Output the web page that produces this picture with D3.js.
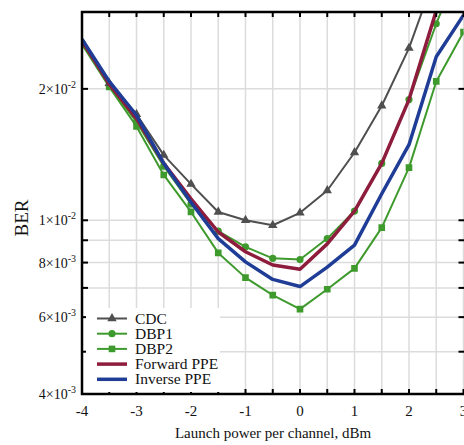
<!DOCTYPE html>
<html>
<head>
<meta charset="utf-8">
<script src="https://cdn.jsdelivr.net/npm/d3@7"></script>
<style>
  body { margin: 0; background: #fff; }
</style>
</head>
<body>
<div id="chart"></div>
<script>
// launch power per channel, dBm
var powers = [-4, -3.5, -3, -2.5, -2, -1.5, -1, -0.5, 0, 0.5, 1, 1.5, 2, 2.5, 3];

var berCDC  = [2.56e-2, 2.06e-2, 1.75e-2, 1.41e-2, 1.21e-2, 1.045e-2, 1.0e-2, 9.74e-3, 1.04e-2, 1.17e-2, 1.43e-2, 1.83e-2, 2.48e-2, 3.7e-2, 5.6e-2];
var berDBP1 = [2.55e-2, 2.03e-2, 1.68e-2, 1.33e-2, 1.09e-2, 9.44e-3, 8.69e-3, 8.18e-3, 8.13e-3, 9.08e-3, 1.05e-2, 1.35e-2, 1.89e-2, 2.82e-2, 4.0e-2];
var berDBP2 = [2.53e-2, 2.02e-2, 1.64e-2, 1.27e-2, 1.045e-2, 8.42e-3, 7.39e-3, 6.74e-3, 6.26e-3, 6.95e-3, 7.76e-3, 9.62e-3, 1.32e-2, 2.08e-2, 2.70e-2];
var berFwd  = [2.58e-2, 2.05e-2, 1.71e-2, 1.35e-2, 1.12e-2, 9.4e-3, 8.47e-3, 7.9e-3, 7.72e-3, 8.83e-3, 1.05e-2, 1.35e-2, 1.89e-2, 3.02e-2, 4.7e-2];
var berInv  = [2.6e-2, 2.08e-2, 1.74e-2, 1.35e-2, 1.10e-2, 9.08e-3, 8.03e-3, 7.32e-3, 7.05e-3, 7.81e-3, 8.77e-3, 1.15e-2, 1.49e-2, 2.37e-2, 2.95e-2];

var xTicks = [-4, -3, -2, -1, 0, 1, 2, 3];
var xMinor = d3.range(-4, 3.01, 0.5);
var yLabelTicks = [[4e-3, '4', '-3'], [6e-3, '6', '-3'], [8e-3, '8', '-3'], [1e-2, '1', '-2'], [2e-2, '2', '-2']];
var yGridTicks = [4e-3, 5e-3, 6e-3, 7e-3, 8e-3, 9e-3, 1e-2, 2e-2];

var series = [
  { name: 'DBP2', values: berDBP2, color: '#3f9a2e', width: 2, marker: 'square' },
  { name: 'DBP1', values: berDBP1, color: '#3f9a2e', width: 2, marker: 'circle' },
  { name: 'CDC', values: berCDC, color: '#4f4f4f', width: 2, marker: 'triangle' },
  { name: 'Forward PPE', values: berFwd, color: '#8e1c3c', width: 3.5, marker: null },
  { name: 'Inverse PPE', values: berInv, color: '#1f3d96', width: 3.5, marker: null }
];
var legendOrder = ['CDC', 'DBP1', 'DBP2', 'Forward PPE', 'Inverse PPE'];

var width = 464, height = 445;
var plotLeft = 82, plotRight = 463.5, plotTop = 12, plotBottom = 394;

var svg = d3.select('#chart').append('svg')
  .attr('width', width)
  .attr('height', height)
  .attr('font-family', '"Liberation Serif", "DejaVu Serif", "Times New Roman", serif')
  .style('font-family', '"Liberation Serif", "DejaVu Serif", "Times New Roman", serif');

var x = d3.scaleLinear().domain([-4, 3]).range([plotLeft, plotRight]);
var y = d3.scaleLog().domain([4e-3, 3e-2]).range([plotBottom, plotTop]);

svg.append('defs').append('clipPath').attr('id', 'plot-clip')
  .append('rect')
  .attr('x', plotLeft).attr('y', plotTop)
  .attr('width', plotRight - plotLeft).attr('height', plotBottom - plotTop);

// grid
var grid = svg.append('g');
grid.selectAll('.vg').data(xMinor).enter().append('line')
  .attr('x1', d => x(d)).attr('x2', d => x(d))
  .attr('y1', plotTop).attr('y2', plotBottom)
  .attr('stroke', '#dcdcdc').attr('stroke-width', 1.5);
grid.selectAll('.hg').data(yGridTicks).enter().append('line')
  .attr('x1', plotLeft).attr('x2', plotRight)
  .attr('y1', d => y(d)).attr('y2', d => y(d))
  .attr('stroke', '#dcdcdc').attr('stroke-width', 1.5);

// curves
var plot = svg.append('g').attr('clip-path', 'url(#plot-clip)');
var line = d3.line()
  .x((d, i) => x(powers[i]))
  .y(d => y(d));

var tri = d3.symbol().type(d3.symbolTriangle).size(38);
var sq = d3.symbol().type(d3.symbolSquare).size(44);

function drawMarker(g, type, color, cx, cy) {
  if (type === 'circle') {
    g.append('circle').attr('cx', cx).attr('cy', cy).attr('r', 3.6).attr('fill', color);
  } else if (type === 'square') {
    g.append('path').attr('d', sq()).attr('transform', 'translate(' + cx + ',' + cy + ')').attr('fill', color);
  } else if (type === 'triangle') {
    g.append('path').attr('d', tri()).attr('transform', 'translate(' + cx + ',' + cy + ')').attr('fill', color);
  }
}

series.forEach(function(s) {
  plot.append('path')
    .datum(s.values)
    .attr('d', line)
    .attr('fill', 'none')
    .attr('stroke', s.color)
    .attr('stroke-width', s.width)
    .attr('stroke-linejoin', 'round');
  if (s.marker) {
    s.values.forEach(function(v, i) {
      drawMarker(plot, s.marker, s.color, x(powers[i]), y(v));
    });
  }
});

// frame and ticks
var frame = svg.append('g');
frame.append('path')
  .attr('d', 'M' + (plotRight + 2) + ',' + plotTop + 'H' + plotLeft + 'V' + plotBottom + 'H' + (plotRight + 2))
  .attr('fill', 'none').attr('stroke', '#000').attr('stroke-width', 2.5);

xMinor.forEach(function(d) {
  frame.append('line').attr('x1', x(d)).attr('x2', x(d)).attr('y1', plotBottom).attr('y2', plotBottom - 5)
    .attr('stroke', '#000').attr('stroke-width', 2);
  frame.append('line').attr('x1', x(d)).attr('x2', x(d)).attr('y1', plotTop).attr('y2', plotTop + 5)
    .attr('stroke', '#000').attr('stroke-width', 2);
});
yGridTicks.forEach(function(d) {
  frame.append('line').attr('x1', plotLeft).attr('x2', plotLeft + 6).attr('y1', y(d)).attr('y2', y(d))
    .attr('stroke', '#000').attr('stroke-width', 2);
  frame.append('line').attr('x1', plotRight + 1).attr('x2', plotRight - 5).attr('y1', y(d)).attr('y2', y(d))
    .attr('stroke', '#000').attr('stroke-width', 2);
});

// x tick labels
svg.selectAll('.xl').data(xTicks).enter().append('text')
  .attr('x', d => x(d)).attr('y', 416)
  .attr('text-anchor', 'middle')
  .attr('font-size', 15)
  .attr('fill', '#111')
  .text(d => d);

// y tick labels
yLabelTicks.forEach(function(t) {
  var tx = svg.append('text')
    .attr('x', 76).attr('y', y(t[0]) + 5)
    .attr('text-anchor', 'end')
    .attr('font-size', 14)
    .attr('fill', '#111');
  tx.append('tspan').text(t[1] + '\u00d710');
  tx.append('tspan').attr('dy', -6).attr('font-size', 10).text(t[2]);
});

// axis titles
svg.append('text')
  .attr('x', 273).attr('y', 438)
  .attr('text-anchor', 'middle')
  .attr('font-size', 15)
  .attr('fill', '#111')
  .text('Launch power per channel, dBm');

svg.append('text')
  .attr('transform', 'translate(28,218) rotate(-90)')
  .attr('text-anchor', 'middle')
  .attr('font-size', 19)
  .attr('fill', '#111')
  .text('BER');

// legend
var legend = svg.append('g');
legend.append('rect')
  .attr('x', 86).attr('y', 308).attr('width', 134).attr('height', 84)
  .attr('fill', '#fff');
legendOrder.forEach(function(name, i) {
  var s = series.find(d => d.name === name);
  var ly = 318.5 + i * 15.2;
  legend.append('line')
    .attr('x1', 97).attr('x2', 127).attr('y1', ly).attr('y2', ly)
    .attr('stroke', s.color).attr('stroke-width', s.width);
  if (s.marker) drawMarker(legend, s.marker, s.color, 112, ly);
  legend.append('text')
    .attr('x', 135).attr('y', ly + 5)
    .attr('font-size', 15.5)
    .attr('fill', '#111')
    .text(name);
});
</script>
</body>
</html>
